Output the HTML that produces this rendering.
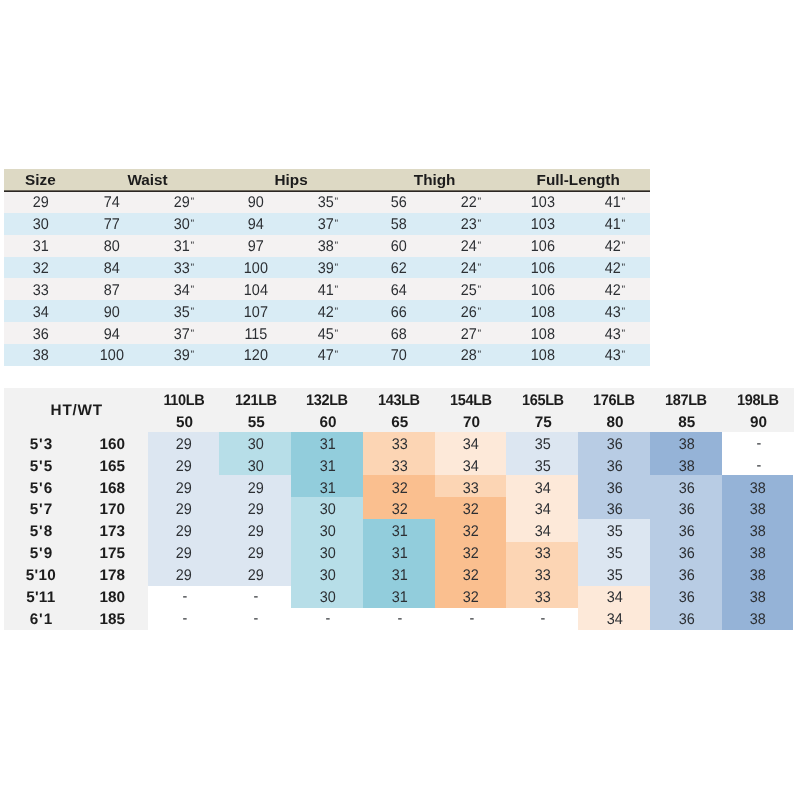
<!DOCTYPE html>
<html lang="en"><head><meta charset="utf-8"><title>Size chart</title>
<style>
html,body{margin:0;padding:0;background:#fff;}
body{width:800px;height:800px;position:relative;overflow:hidden;font-family:"Liberation Sans",sans-serif;color:#333;}
.bg{position:absolute;}
.t{position:absolute;height:22px;line-height:22px;text-align:center;white-space:nowrap;font-size:15px;}
.d{font-size:15.5px;text-rendering:geometricPrecision;transform:scale(.93,1);transform-origin:50% 16px;color:#2c2f33;margin-top:1px;}
.b{font-weight:bold;color:#1c1c1c;font-size:15.3px;}
.g{text-rendering:geometricPrecision;margin-top:1px;}
.lb{letter-spacing:-0.4px;transform:scale(.95,1);transform-origin:50% 16px;}
.h1{font-size:15.3px;}
.hw{letter-spacing:0.8px;}
.ht{letter-spacing:0.9px;}
.h4{letter-spacing:0.3px;}
.q{font-size:11px;position:relative;top:-2px;margin-left:0.8px;}
</style></head><body>

<div class="bg" style="left:4px;top:169px;width:645.95px;height:22px;background:#ddd9c4"></div>
<div class="bg" style="left:4px;top:190.85px;width:645.95px;height:21.89px;background:#f4f2f2"></div>
<div class="bg" style="left:4px;top:212.74px;width:645.95px;height:21.89px;background:#d9ecf5"></div>
<div class="bg" style="left:4px;top:234.64px;width:645.95px;height:21.89px;background:#f4f2f2"></div>
<div class="bg" style="left:4px;top:256.53px;width:645.95px;height:21.89px;background:#d9ecf5"></div>
<div class="bg" style="left:4px;top:278.43px;width:645.95px;height:21.89px;background:#f4f2f2"></div>
<div class="bg" style="left:4px;top:300.32px;width:645.95px;height:21.89px;background:#d9ecf5"></div>
<div class="bg" style="left:4px;top:322.21px;width:645.95px;height:21.89px;background:#f4f2f2"></div>
<div class="bg" style="left:4px;top:344.11px;width:645.95px;height:21.89px;background:#d9ecf5"></div>
<div class="bg" style="left:4px;top:190px;width:645.95px;height:2px;background:linear-gradient(#6b665a 0,#6b665a 50%,#2b2723 50%,#2b2723 100%)"></div>
<div class="t b h1" style="left:4.5px;top:169px;width:71.77px">Size</div>
<div class="t b h1" style="left:75.77px;top:169px;width:143.55px">Waist</div>
<div class="t b h1" style="left:219.32px;top:169px;width:143.55px">Hips</div>
<div class="t b h1" style="left:362.86px;top:169px;width:143.55px">Thigh</div>
<div class="t b h1" style="left:506.41px;top:169px;width:143.55px">Full-Length</div>
<div class="t d" style="left:4.5px;top:191px;width:71.77px">29</div>
<div class="t d" style="left:76.27px;top:191px;width:71.77px">74</div>
<div class="t d" style="left:148.05px;top:191px;width:71.77px">29<span class="q">&quot;</span></div>
<div class="t d" style="left:219.82px;top:191px;width:71.77px">90</div>
<div class="t d" style="left:291.59px;top:191px;width:71.77px">35<span class="q">&quot;</span></div>
<div class="t d" style="left:363.36px;top:191px;width:71.77px">56</div>
<div class="t d" style="left:435.14px;top:191px;width:71.77px">22<span class="q">&quot;</span></div>
<div class="t d" style="left:506.91px;top:191px;width:71.77px">103</div>
<div class="t d" style="left:578.68px;top:191px;width:71.77px">41<span class="q">&quot;</span></div>
<div class="t d" style="left:4.5px;top:213px;width:71.77px">30</div>
<div class="t d" style="left:76.27px;top:213px;width:71.77px">77</div>
<div class="t d" style="left:148.05px;top:213px;width:71.77px">30<span class="q">&quot;</span></div>
<div class="t d" style="left:219.82px;top:213px;width:71.77px">94</div>
<div class="t d" style="left:291.59px;top:213px;width:71.77px">37<span class="q">&quot;</span></div>
<div class="t d" style="left:363.36px;top:213px;width:71.77px">58</div>
<div class="t d" style="left:435.14px;top:213px;width:71.77px">23<span class="q">&quot;</span></div>
<div class="t d" style="left:506.91px;top:213px;width:71.77px">103</div>
<div class="t d" style="left:578.68px;top:213px;width:71.77px">41<span class="q">&quot;</span></div>
<div class="t d" style="left:4.5px;top:235px;width:71.77px">31</div>
<div class="t d" style="left:76.27px;top:235px;width:71.77px">80</div>
<div class="t d" style="left:148.05px;top:235px;width:71.77px">31<span class="q">&quot;</span></div>
<div class="t d" style="left:219.82px;top:235px;width:71.77px">97</div>
<div class="t d" style="left:291.59px;top:235px;width:71.77px">38<span class="q">&quot;</span></div>
<div class="t d" style="left:363.36px;top:235px;width:71.77px">60</div>
<div class="t d" style="left:435.14px;top:235px;width:71.77px">24<span class="q">&quot;</span></div>
<div class="t d" style="left:506.91px;top:235px;width:71.77px">106</div>
<div class="t d" style="left:578.68px;top:235px;width:71.77px">42<span class="q">&quot;</span></div>
<div class="t d" style="left:4.5px;top:257px;width:71.77px">32</div>
<div class="t d" style="left:76.27px;top:257px;width:71.77px">84</div>
<div class="t d" style="left:148.05px;top:257px;width:71.77px">33<span class="q">&quot;</span></div>
<div class="t d" style="left:219.82px;top:257px;width:71.77px">100</div>
<div class="t d" style="left:291.59px;top:257px;width:71.77px">39<span class="q">&quot;</span></div>
<div class="t d" style="left:363.36px;top:257px;width:71.77px">62</div>
<div class="t d" style="left:435.14px;top:257px;width:71.77px">24<span class="q">&quot;</span></div>
<div class="t d" style="left:506.91px;top:257px;width:71.77px">106</div>
<div class="t d" style="left:578.68px;top:257px;width:71.77px">42<span class="q">&quot;</span></div>
<div class="t d" style="left:4.5px;top:279px;width:71.77px">33</div>
<div class="t d" style="left:76.27px;top:279px;width:71.77px">87</div>
<div class="t d" style="left:148.05px;top:279px;width:71.77px">34<span class="q">&quot;</span></div>
<div class="t d" style="left:219.82px;top:279px;width:71.77px">104</div>
<div class="t d" style="left:291.59px;top:279px;width:71.77px">41<span class="q">&quot;</span></div>
<div class="t d" style="left:363.36px;top:279px;width:71.77px">64</div>
<div class="t d" style="left:435.14px;top:279px;width:71.77px">25<span class="q">&quot;</span></div>
<div class="t d" style="left:506.91px;top:279px;width:71.77px">106</div>
<div class="t d" style="left:578.68px;top:279px;width:71.77px">42<span class="q">&quot;</span></div>
<div class="t d" style="left:4.5px;top:301px;width:71.77px">34</div>
<div class="t d" style="left:76.27px;top:301px;width:71.77px">90</div>
<div class="t d" style="left:148.05px;top:301px;width:71.77px">35<span class="q">&quot;</span></div>
<div class="t d" style="left:219.82px;top:301px;width:71.77px">107</div>
<div class="t d" style="left:291.59px;top:301px;width:71.77px">42<span class="q">&quot;</span></div>
<div class="t d" style="left:363.36px;top:301px;width:71.77px">66</div>
<div class="t d" style="left:435.14px;top:301px;width:71.77px">26<span class="q">&quot;</span></div>
<div class="t d" style="left:506.91px;top:301px;width:71.77px">108</div>
<div class="t d" style="left:578.68px;top:301px;width:71.77px">43<span class="q">&quot;</span></div>
<div class="t d" style="left:4.5px;top:323px;width:71.77px">36</div>
<div class="t d" style="left:76.27px;top:323px;width:71.77px">94</div>
<div class="t d" style="left:148.05px;top:323px;width:71.77px">37<span class="q">&quot;</span></div>
<div class="t d" style="left:219.82px;top:323px;width:71.77px">115</div>
<div class="t d" style="left:291.59px;top:323px;width:71.77px">45<span class="q">&quot;</span></div>
<div class="t d" style="left:363.36px;top:323px;width:71.77px">68</div>
<div class="t d" style="left:435.14px;top:323px;width:71.77px">27<span class="q">&quot;</span></div>
<div class="t d" style="left:506.91px;top:323px;width:71.77px">108</div>
<div class="t d" style="left:578.68px;top:323px;width:71.77px">43<span class="q">&quot;</span></div>
<div class="t d" style="left:4.5px;top:344px;width:71.77px">38</div>
<div class="t d" style="left:76.27px;top:344px;width:71.77px">100</div>
<div class="t d" style="left:148.05px;top:344px;width:71.77px">39<span class="q">&quot;</span></div>
<div class="t d" style="left:219.82px;top:344px;width:71.77px">120</div>
<div class="t d" style="left:291.59px;top:344px;width:71.77px">47<span class="q">&quot;</span></div>
<div class="t d" style="left:363.36px;top:344px;width:71.77px">70</div>
<div class="t d" style="left:435.14px;top:344px;width:71.77px">28<span class="q">&quot;</span></div>
<div class="t d" style="left:506.91px;top:344px;width:71.77px">108</div>
<div class="t d" style="left:578.68px;top:344px;width:71.77px">43<span class="q">&quot;</span></div>
<div class="bg" style="left:4px;top:388px;width:789.5px;height:43.75px;background:#f2f2f2"></div>
<div class="bg" style="left:4px;top:431.75px;width:143.55px;height:197.75px;background:#f2f2f2"></div>
<div class="bg" style="left:147.55px;top:431.75px;width:71.77px;height:154px;background:#dce6f1"></div>
<div class="bg" style="left:219.32px;top:431.75px;width:71.77px;height:43px;background:#b7dee8"></div>
<div class="bg" style="left:219.32px;top:474.75px;width:71.77px;height:111px;background:#dce6f1"></div>
<div class="bg" style="left:291.09px;top:431.75px;width:71.77px;height:65.25px;background:#92cddc"></div>
<div class="bg" style="left:291.09px;top:497px;width:71.77px;height:110.6px;background:#b7dee8"></div>
<div class="bg" style="left:362.86px;top:431.75px;width:71.77px;height:43px;background:#fcd5b4"></div>
<div class="bg" style="left:362.86px;top:474.75px;width:71.77px;height:44.5px;background:#fabf8f"></div>
<div class="bg" style="left:362.86px;top:519.25px;width:71.77px;height:88.35px;background:#92cddc"></div>
<div class="bg" style="left:434.64px;top:431.75px;width:71.77px;height:43px;background:#fde9d9"></div>
<div class="bg" style="left:434.64px;top:474.75px;width:71.77px;height:22.25px;background:#fcd5b4"></div>
<div class="bg" style="left:434.64px;top:497px;width:71.77px;height:110.6px;background:#fabf8f"></div>
<div class="bg" style="left:506.41px;top:431.75px;width:71.77px;height:43px;background:#dce6f1"></div>
<div class="bg" style="left:506.41px;top:474.75px;width:71.77px;height:67px;background:#fde9d9"></div>
<div class="bg" style="left:506.41px;top:541.75px;width:71.77px;height:65.85px;background:#fcd5b4"></div>
<div class="bg" style="left:578.18px;top:431.75px;width:71.77px;height:87.5px;background:#b8cce4"></div>
<div class="bg" style="left:578.18px;top:519.25px;width:71.77px;height:66.5px;background:#dce6f1"></div>
<div class="bg" style="left:578.18px;top:585.75px;width:71.77px;height:43.75px;background:#fde9d9"></div>
<div class="bg" style="left:649.95px;top:431.75px;width:71.77px;height:43px;background:#95b3d7"></div>
<div class="bg" style="left:649.95px;top:474.75px;width:71.77px;height:154.75px;background:#b8cce4"></div>
<div class="bg" style="left:721.73px;top:474.75px;width:71.77px;height:154.75px;background:#95b3d7"></div>
<div class="t b g hw" style="left:5px;top:399px;width:143.55px">HT/WT</div>
<div class="t b g lb" style="left:147.85px;top:389px;width:71.77px">110LB</div>
<div class="t b g" style="left:148.55px;top:411px;width:71.77px">50</div>
<div class="t b g lb" style="left:219.62px;top:389px;width:71.77px">121LB</div>
<div class="t b g" style="left:220.32px;top:411px;width:71.77px">55</div>
<div class="t b g lb" style="left:291.39px;top:389px;width:71.77px">132LB</div>
<div class="t b g" style="left:292.09px;top:411px;width:71.77px">60</div>
<div class="t b g lb" style="left:363.16px;top:389px;width:71.77px">143LB</div>
<div class="t b g" style="left:363.86px;top:411px;width:71.77px">65</div>
<div class="t b g lb" style="left:434.94px;top:389px;width:71.77px">154LB</div>
<div class="t b g" style="left:435.64px;top:411px;width:71.77px">70</div>
<div class="t b g lb" style="left:506.71px;top:389px;width:71.77px">165LB</div>
<div class="t b g" style="left:507.41px;top:411px;width:71.77px">75</div>
<div class="t b g lb" style="left:578.48px;top:389px;width:71.77px">176LB</div>
<div class="t b g" style="left:579.18px;top:411px;width:71.77px">80</div>
<div class="t b g lb" style="left:650.25px;top:389px;width:71.77px">187LB</div>
<div class="t b g" style="left:650.95px;top:411px;width:71.77px">85</div>
<div class="t b g lb" style="left:722.03px;top:389px;width:71.77px">198LB</div>
<div class="t b g" style="left:722.73px;top:411px;width:71.77px">90</div>
<div class="t b g ht" style="left:5.5px;top:433px;width:71.77px">5'3</div>
<div class="t b g" style="left:76.27px;top:433px;width:71.77px">160</div>
<div class="t d" style="left:148.3px;top:433px;width:71.77px">29</div>
<div class="t d" style="left:220.07px;top:433px;width:71.77px">30</div>
<div class="t d" style="left:291.84px;top:433px;width:71.77px">31</div>
<div class="t d" style="left:363.61px;top:433px;width:71.77px">33</div>
<div class="t d" style="left:435.39px;top:433px;width:71.77px">34</div>
<div class="t d" style="left:507.16px;top:433px;width:71.77px">35</div>
<div class="t d" style="left:578.93px;top:433px;width:71.77px">36</div>
<div class="t d" style="left:650.7px;top:433px;width:71.77px">38</div>
<div class="t d" style="left:722.73px;top:432px;width:71.77px">-</div>
<div class="t b g ht" style="left:5.5px;top:455px;width:71.77px">5'5</div>
<div class="t b g" style="left:76.27px;top:455px;width:71.77px">165</div>
<div class="t d" style="left:148.3px;top:455px;width:71.77px">29</div>
<div class="t d" style="left:220.07px;top:455px;width:71.77px">30</div>
<div class="t d" style="left:291.84px;top:455px;width:71.77px">31</div>
<div class="t d" style="left:363.61px;top:455px;width:71.77px">33</div>
<div class="t d" style="left:435.39px;top:455px;width:71.77px">34</div>
<div class="t d" style="left:507.16px;top:455px;width:71.77px">35</div>
<div class="t d" style="left:578.93px;top:455px;width:71.77px">36</div>
<div class="t d" style="left:650.7px;top:455px;width:71.77px">38</div>
<div class="t d" style="left:722.73px;top:454px;width:71.77px">-</div>
<div class="t b g ht" style="left:5.5px;top:477px;width:71.77px">5'6</div>
<div class="t b g" style="left:76.27px;top:477px;width:71.77px">168</div>
<div class="t d" style="left:148.3px;top:477px;width:71.77px">29</div>
<div class="t d" style="left:220.07px;top:477px;width:71.77px">29</div>
<div class="t d" style="left:291.84px;top:477px;width:71.77px">31</div>
<div class="t d" style="left:363.61px;top:477px;width:71.77px">32</div>
<div class="t d" style="left:435.39px;top:477px;width:71.77px">33</div>
<div class="t d" style="left:507.16px;top:477px;width:71.77px">34</div>
<div class="t d" style="left:578.93px;top:477px;width:71.77px">36</div>
<div class="t d" style="left:650.7px;top:477px;width:71.77px">36</div>
<div class="t d" style="left:722.48px;top:477px;width:71.77px">38</div>
<div class="t b g ht" style="left:5.5px;top:498px;width:71.77px">5'7</div>
<div class="t b g" style="left:76.27px;top:498px;width:71.77px">170</div>
<div class="t d" style="left:148.3px;top:498px;width:71.77px">29</div>
<div class="t d" style="left:220.07px;top:498px;width:71.77px">29</div>
<div class="t d" style="left:291.84px;top:498px;width:71.77px">30</div>
<div class="t d" style="left:363.61px;top:498px;width:71.77px">32</div>
<div class="t d" style="left:435.39px;top:498px;width:71.77px">32</div>
<div class="t d" style="left:507.16px;top:498px;width:71.77px">34</div>
<div class="t d" style="left:578.93px;top:498px;width:71.77px">36</div>
<div class="t d" style="left:650.7px;top:498px;width:71.77px">36</div>
<div class="t d" style="left:722.48px;top:498px;width:71.77px">38</div>
<div class="t b g ht" style="left:5.5px;top:520px;width:71.77px">5'8</div>
<div class="t b g" style="left:76.27px;top:520px;width:71.77px">173</div>
<div class="t d" style="left:148.3px;top:520px;width:71.77px">29</div>
<div class="t d" style="left:220.07px;top:520px;width:71.77px">29</div>
<div class="t d" style="left:291.84px;top:520px;width:71.77px">30</div>
<div class="t d" style="left:363.61px;top:520px;width:71.77px">31</div>
<div class="t d" style="left:435.39px;top:520px;width:71.77px">32</div>
<div class="t d" style="left:507.16px;top:520px;width:71.77px">34</div>
<div class="t d" style="left:578.93px;top:520px;width:71.77px">35</div>
<div class="t d" style="left:650.7px;top:520px;width:71.77px">36</div>
<div class="t d" style="left:722.48px;top:520px;width:71.77px">38</div>
<div class="t b g ht" style="left:5.5px;top:542px;width:71.77px">5'9</div>
<div class="t b g" style="left:76.27px;top:542px;width:71.77px">175</div>
<div class="t d" style="left:148.3px;top:542px;width:71.77px">29</div>
<div class="t d" style="left:220.07px;top:542px;width:71.77px">29</div>
<div class="t d" style="left:291.84px;top:542px;width:71.77px">30</div>
<div class="t d" style="left:363.61px;top:542px;width:71.77px">31</div>
<div class="t d" style="left:435.39px;top:542px;width:71.77px">32</div>
<div class="t d" style="left:507.16px;top:542px;width:71.77px">33</div>
<div class="t d" style="left:578.93px;top:542px;width:71.77px">35</div>
<div class="t d" style="left:650.7px;top:542px;width:71.77px">36</div>
<div class="t d" style="left:722.48px;top:542px;width:71.77px">38</div>
<div class="t b g h4" style="left:5px;top:564px;width:71.77px">5'10</div>
<div class="t b g" style="left:76.27px;top:564px;width:71.77px">178</div>
<div class="t d" style="left:148.3px;top:564px;width:71.77px">29</div>
<div class="t d" style="left:220.07px;top:564px;width:71.77px">29</div>
<div class="t d" style="left:291.84px;top:564px;width:71.77px">30</div>
<div class="t d" style="left:363.61px;top:564px;width:71.77px">31</div>
<div class="t d" style="left:435.39px;top:564px;width:71.77px">32</div>
<div class="t d" style="left:507.16px;top:564px;width:71.77px">33</div>
<div class="t d" style="left:578.93px;top:564px;width:71.77px">35</div>
<div class="t d" style="left:650.7px;top:564px;width:71.77px">36</div>
<div class="t d" style="left:722.48px;top:564px;width:71.77px">38</div>
<div class="t b g h4" style="left:5px;top:586px;width:71.77px">5'11</div>
<div class="t b g" style="left:76.27px;top:586px;width:71.77px">180</div>
<div class="t d" style="left:148.55px;top:585px;width:71.77px">-</div>
<div class="t d" style="left:220.32px;top:585px;width:71.77px">-</div>
<div class="t d" style="left:291.84px;top:586px;width:71.77px">30</div>
<div class="t d" style="left:363.61px;top:586px;width:71.77px">31</div>
<div class="t d" style="left:435.39px;top:586px;width:71.77px">32</div>
<div class="t d" style="left:507.16px;top:586px;width:71.77px">33</div>
<div class="t d" style="left:578.93px;top:586px;width:71.77px">34</div>
<div class="t d" style="left:650.7px;top:586px;width:71.77px">36</div>
<div class="t d" style="left:722.48px;top:586px;width:71.77px">38</div>
<div class="t b g ht" style="left:5.5px;top:608px;width:71.77px">6'1</div>
<div class="t b g" style="left:76.27px;top:608px;width:71.77px">185</div>
<div class="t d" style="left:148.55px;top:607px;width:71.77px">-</div>
<div class="t d" style="left:220.32px;top:607px;width:71.77px">-</div>
<div class="t d" style="left:292.09px;top:607px;width:71.77px">-</div>
<div class="t d" style="left:363.86px;top:607px;width:71.77px">-</div>
<div class="t d" style="left:435.64px;top:607px;width:71.77px">-</div>
<div class="t d" style="left:507.41px;top:607px;width:71.77px">-</div>
<div class="t d" style="left:578.93px;top:608px;width:71.77px">34</div>
<div class="t d" style="left:650.7px;top:608px;width:71.77px">36</div>
<div class="t d" style="left:722.48px;top:608px;width:71.77px">38</div>
</body></html>
